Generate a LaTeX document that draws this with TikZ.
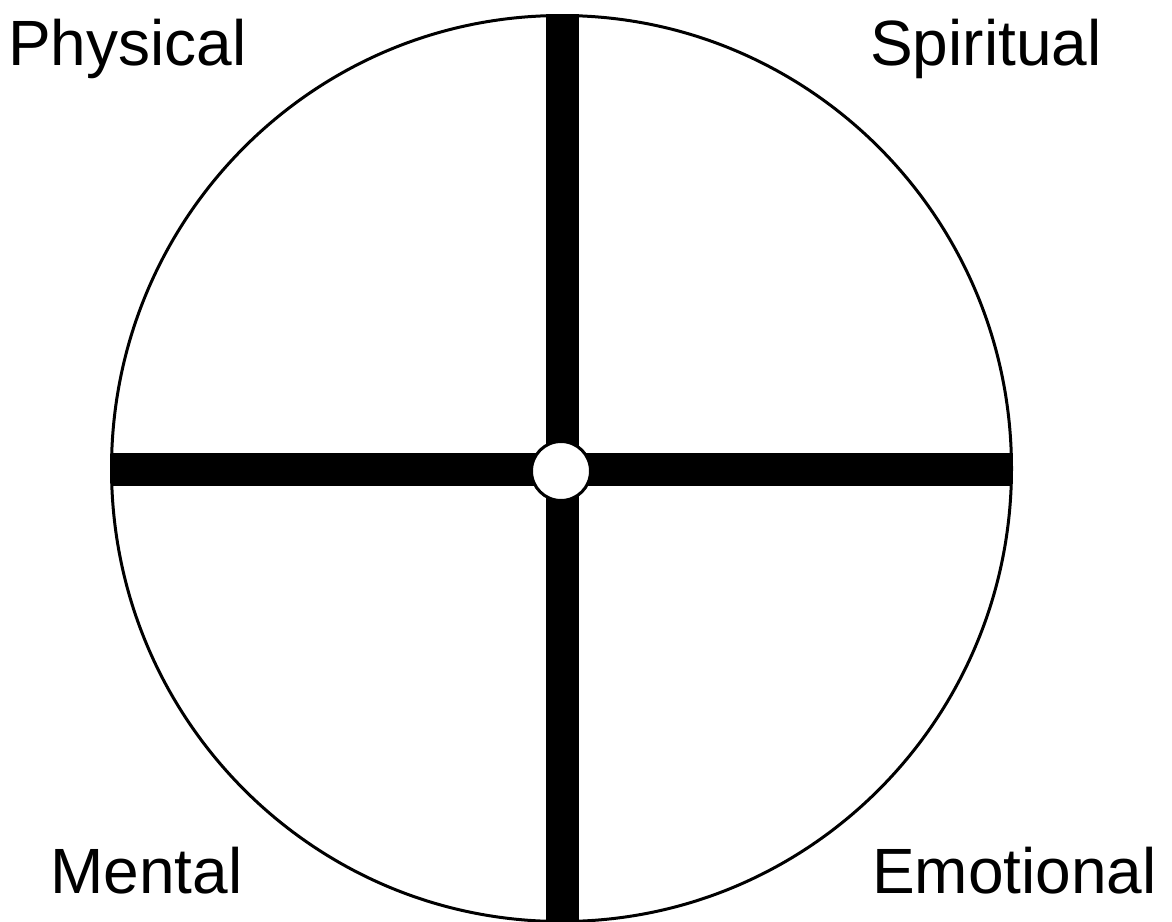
\documentclass[tikz,border=0pt]{standalone}
\usepackage{fontspec}
\setmainfont{Liberation Sans}
\begin{document}
\begin{tikzpicture}[x=1pt,y=-1pt,
  lbl/.style={font=\fontsize{64}{72}\selectfont, inner sep=0pt, anchor=base west},
  bar/.style={line width=33pt},
  rim/.style={line width=3pt}]
\useasboundingbox (0,0) rectangle (1172,921);
\fill[white] (0,0) rectangle (1172,921);
\clip (0,0) rectangle (1172,921);
\coordinate (top) at (562.5,14);
\coordinate (bot) at (562.5,925);
\coordinate (left) at (112,469.5);
\coordinate (right) at (1011,469.5);
\draw[bar] (top) -- (bot);
\draw[bar] (left) -- (right);
\draw[rim] (561.5,468.5) ellipse [x radius=450, y radius=453];
\node[draw, rim, fill=white, circle, minimum size=59pt, inner sep=0pt] (hub) at (561,471) {};
\node[lbl] (physical) at (8,65) {Physical};
\node[lbl] (spiritual) at (870,65) {Spiritual};
\node[lbl] (mental) at (50,893) {Mental};
\node[lbl] (emotional) at (872,893) {Emotional};
\end{tikzpicture}
\end{document}
